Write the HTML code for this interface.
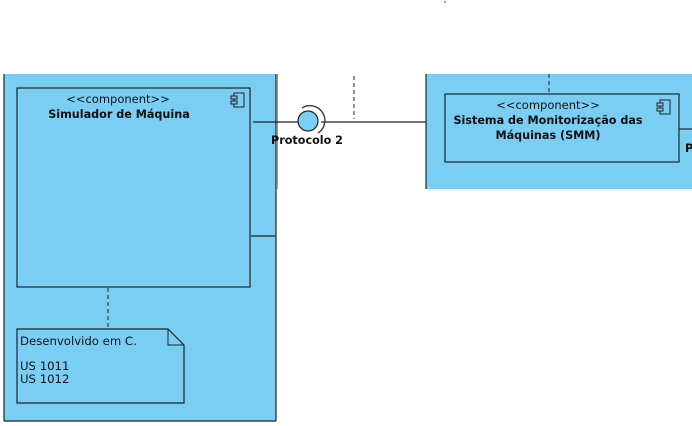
<!DOCTYPE html>
<html><head><meta charset="utf-8"><style>
html,body{margin:0;padding:0;background:#fff;width:692px;height:426px;overflow:hidden}
svg{display:block}
text{font-family:"DejaVu Sans","Liberation Sans",sans-serif;fill:#111}
</style></head><body>
<svg width="692" height="426" viewBox="0 0 692 426">
<circle cx="445" cy="2" r="0.8" fill="#333"/>
<rect x="4" y="74" width="272" height="347" fill="#7acdf3"/>
<line x1="4" y1="74" x2="4" y2="421" stroke="#222" stroke-width="1.2"/>
<line x1="4" y1="421" x2="276" y2="421" stroke="#222" stroke-width="1.2"/>
<line x1="276" y1="74" x2="276" y2="421" stroke="#222" stroke-width="1.2"/>
<line x1="277.5" y1="74" x2="277.5" y2="189" stroke="#999" stroke-width="1"/>
<line x1="251" y1="236" x2="276" y2="236" stroke="#222" stroke-width="1.2"/>
<rect x="17" y="88" width="233" height="199" fill="#7acdf3" stroke="#222" stroke-width="1.2"/>
<text x="118" y="103" font-size="11.5" text-anchor="middle">&lt;&lt;component&gt;&gt;</text>
<text x="119" y="118" font-size="11.2" font-weight="bold" text-anchor="middle">Simulador de Máquina</text>
<g stroke="#222" fill="#7acdf3" stroke-width="1">
<rect x="234" y="93" width="10" height="14"/><rect x="231" y="96" width="6" height="3"/><rect x="231" y="101" width="6" height="3"/>
</g>
<line x1="108" y1="288" x2="108" y2="329" stroke="#222" stroke-dasharray="4,3"/>
<path d="M17 329 H168 L184 345 V403 H17 Z" fill="#7acdf3" stroke="#222" stroke-width="1.2"/>
<path d="M168 329 V345 H184" fill="none" stroke="#222"/>
<text x="20" y="345" font-size="11.7">Desenvolvido em C.</text>
<text x="20" y="370" font-size="11.7">US 1011</text>
<text x="20" y="383" font-size="11.7">US 1012</text>
<line x1="253" y1="122" x2="298" y2="122" stroke="#222" stroke-width="1.2"/>
<line x1="321" y1="122" x2="445" y2="122" stroke="#222" stroke-width="1.2"/>
<path d="M302 108 A14 14 0 0 1 318 133" fill="none" stroke="#444" stroke-width="1.5"/>
<circle cx="308" cy="121" r="10" fill="#7acdf3" stroke="#222" stroke-width="1.2"/>
<text x="307" y="144" font-size="11.2" font-weight="bold" text-anchor="middle">Protocolo 2</text>
<line x1="354" y1="76" x2="354" y2="119" stroke="#222" stroke-dasharray="4,3"/>
<rect x="426" y="74" width="266" height="115" fill="#7acdf3"/>
<line x1="426" y1="74" x2="426" y2="189" stroke="#222" stroke-width="1.2"/>
<line x1="549" y1="74" x2="549" y2="94" stroke="#222" stroke-dasharray="4,3"/>
<rect x="445" y="94" width="234" height="68" fill="#7acdf3" stroke="#222" stroke-width="1.2"/>
<text x="548" y="109" font-size="11.5" text-anchor="middle">&lt;&lt;component&gt;&gt;</text>
<text x="548" y="124" font-size="11.2" font-weight="bold" text-anchor="middle">Sistema de Monitorização das</text>
<text x="548" y="139" font-size="11.2" font-weight="bold" text-anchor="middle">Máquinas (SMM)</text>
<g stroke="#222" fill="#7acdf3" stroke-width="1">
<rect x="660" y="100" width="10" height="14"/><rect x="657" y="103" width="6" height="3"/><rect x="657" y="108" width="6" height="3"/>
</g>
<line x1="679" y1="129" x2="692" y2="129" stroke="#222" stroke-width="1.2"/>
<text x="685" y="152" font-size="11.2" font-weight="bold">P</text>
</svg>
</body></html>
